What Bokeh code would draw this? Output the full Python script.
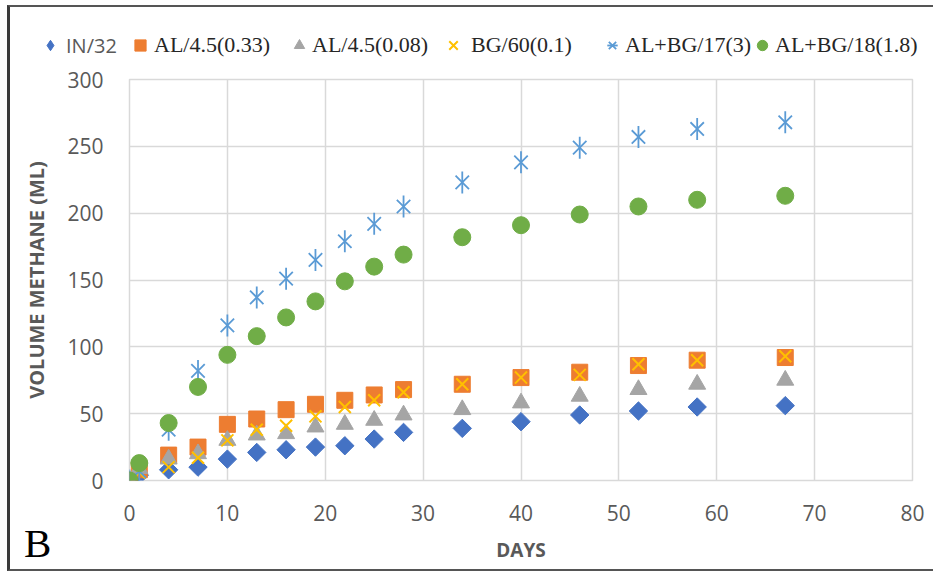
import numpy as np
from bokeh.plotting import figure
from bokeh.layouts import column
from bokeh.models import Range1d, FixedTicker, Legend, LegendItem, Div, ColumnDataSource
from bokeh.embed import file_html
from bokeh.resources import INLINE

# ---- data ----
days = [0, 1, 4, 7, 10, 13, 16, 19, 22, 25, 28, 34, 40, 46, 52, 58, 67]
in32 = [0, 4, 8, 10, 16, 21, 23, 25, 26, 31, 36, 39, 44, 49, 52, 55, 56]
al033 = [0, 8, 19, 25, 42, 46, 53, 57, 60, 64, 68, 72, 77, 81, 86, 90, 92]
al008 = [0, 9, 16, 20, 30, 34, 35, 40, 42, 45, 49, 53, 58, 63, 68, 72, 75]
bg60 = [0, 6, 10, 17, 30, 38, 41, 48, 55, 60, 66, 72, 77, 79, 87, 90, 93]
albg17 = [0, 7, 38, 82, 116, 137, 151, 165, 179, 192, 205, 223, 238, 249, 257, 263, 268]
albg18 = [0, 13, 43, 70, 94, 108, 122, 134, 149, 160, 169, 182, 191, 199, 205, 210, 213]

x_ticks = [0, 10, 20, 30, 40, 50, 60, 70, 80]
y_ticks = [0, 50, 100, 150, 200, 250, 300]

labels = ["IN/32", "AL/4.5(0.33)", "AL/4.5(0.08)", "BG/60(0.1)", "AL+BG/17(3)", "AL+BG/18(1.8)"]
colors = ["#4472c4", "#ed7d31", "#a5a5a5", "#ffc000", "#5b9bd5", "#70ad47"]

src = ColumnDataSource(dict(days=days, in32=in32, al033=al033, al008=al008,
                            bg60=bg60, albg17=albg17, albg18=albg18))


def add_series(fig, legend_strip=False):
    if legend_strip:
        r1 = fig.scatter("days", "in32", source=src, marker="diamond", size=13,
                         fill_color=colors[0], line_color=colors[0])
    else:
        r1 = fig.scatter("days", "in32", source=src, marker="square", angle=np.pi / 4,
                         size=13, fill_color=colors[0], line_color=colors[0])
    r2 = fig.scatter("days", "al033", source=src, marker="square", size=16,
                     fill_color=colors[1], line_color=colors[1])
    r3 = fig.scatter("days", "al008", source=src, marker="triangle", size=17,
                     fill_color=colors[2], line_color=colors[2])
    r4 = fig.scatter("days", "bg60", source=src, marker="x", size=17,
                     line_color=colors[3], line_width=2)
    r5a = fig.scatter("days", "albg17", source=src, marker="x", size=19,
                      line_color=colors[4], line_width=1.8)
    r5b = fig.scatter("days", "albg17", source=src, marker="dash", angle=np.pi / 2, size=22,
                      line_color=colors[4], line_width=1.8)
    r6 = fig.scatter("days", "albg18", source=src, marker="circle", size=17,
                     fill_color=colors[5], line_color=colors[5])
    return [[r1], [r2], [r3], [r4], [r5a, r5b], [r6]]


# ---------------- main chart ----------------
W, H = 926, 566
FL, FT, FB, FR = 119, 72, 93, 24
p = figure(width=W, height=H, output_backend="svg", toolbar_location=None,
           x_range=Range1d(0, 80), y_range=Range1d(0, 300),
           min_border_left=FL, min_border_right=FR, min_border_top=FT, min_border_bottom=FB)
p.styles = {"margin-left": "7px", "margin-top": "5px",
            "border-left": "3px solid #3a3a3a", "border-top": "2px solid #555555",
            "border-bottom": "2px solid #555555"}

p.outline_line_color = "#d9d9d9"
p.outline_line_width = 1.5
for g in (p.xgrid, p.ygrid):
    g.grid_line_color = "#d9d9d9"
    g.grid_line_width = 1.5
p.xaxis.ticker = FixedTicker(ticks=x_ticks)
p.yaxis.ticker = FixedTicker(ticks=y_ticks)
for ax in (p.xaxis, p.yaxis):
    ax.axis_line_color = None
    ax.major_tick_line_color = None
    ax.minor_tick_line_color = None
    ax.major_label_text_font = "Open Sans"
    ax.major_label_text_font_size = "21px"
    ax.major_label_text_color = "#595959"
    ax.axis_label_text_font = "Open Sans"
    ax.axis_label_text_font_style = "bold"
    ax.axis_label_text_color = "#595959"
p.xaxis.axis_label_text_font_size = "19px"
p.yaxis.axis_label_text_font_size = "20px"
p.xaxis.major_label_standoff = 18
p.yaxis.major_label_standoff = 20
p.xaxis.axis_label = "DAYS"
p.yaxis.axis_label = "VOLUME METHANE (ML)"
p.xaxis.axis_label_standoff = 13
p.yaxis.axis_label_standoff = 14

add_series(p)

# ---------------- legend strip (overlaid on the top margin) ----------------
LH = 50
lf = figure(width=936, height=LH, output_backend="svg", toolbar_location=None,
            x_range=Range1d(0, 1), y_range=Range1d(1000, 1001),
            x_axis_type=None, y_axis_type=None,
            min_border_left=0, min_border_right=0, min_border_top=0, min_border_bottom=0)
lf.outline_line_color = None
lf.background_fill_color = None
lf.border_fill_color = None
lf.styles = {"margin-top": "-555px"}   # strip spans page y 20..70, x 0..936
for fig in (p, lf):
    if "frame_align" in fig.properties():
        fig.frame_align = False
leg_renderers = add_series(lf, legend_strip=True)

leg_x = [50, 140, 299, 453, 612, 762]       # marker centres (layout)
leg_gw = [26, 28, 26, 36, 26, 26]
leg_standoff = [3, 0, 0, 0, 0, 0]
GH = 30
for i in range(6):
    gw = leg_gw[i]
    top = 49 - 20 - GH / 2
    lg = Legend(items=[LegendItem(label=labels[i], renderers=leg_renderers[i])],
                location=(leg_x[i] - gw / 2, LH - top - GH), orientation="horizontal",
                padding=0, margin=0, border_line_color=None, background_fill_alpha=0,
                glyph_width=gw, glyph_height=GH, label_height=GH,
                label_standoff=leg_standoff[i])
    if i == 0:
        lg.label_text_font = "Open Sans"
        lg.label_text_font_size = "20px"
        lg.label_text_color = "#595959"
    else:
        lg.label_text_font = "Liberation Serif"
        lg.label_text_font_size = "22px"
        lg.label_text_color = "#262626"
    lf.add_layout(lg, "center")

tag = Div(text="B", width=40, height=41,
          styles={"margin-top": "457px", "margin-left": "24px",
                  "font-family": "Liberation Serif", "font-size": "41px",
                  "line-height": "1", "color": "#000000"})

layout = column(p, lf, tag, spacing=0)
open("out.html", "w").write(file_html(layout, INLINE))
